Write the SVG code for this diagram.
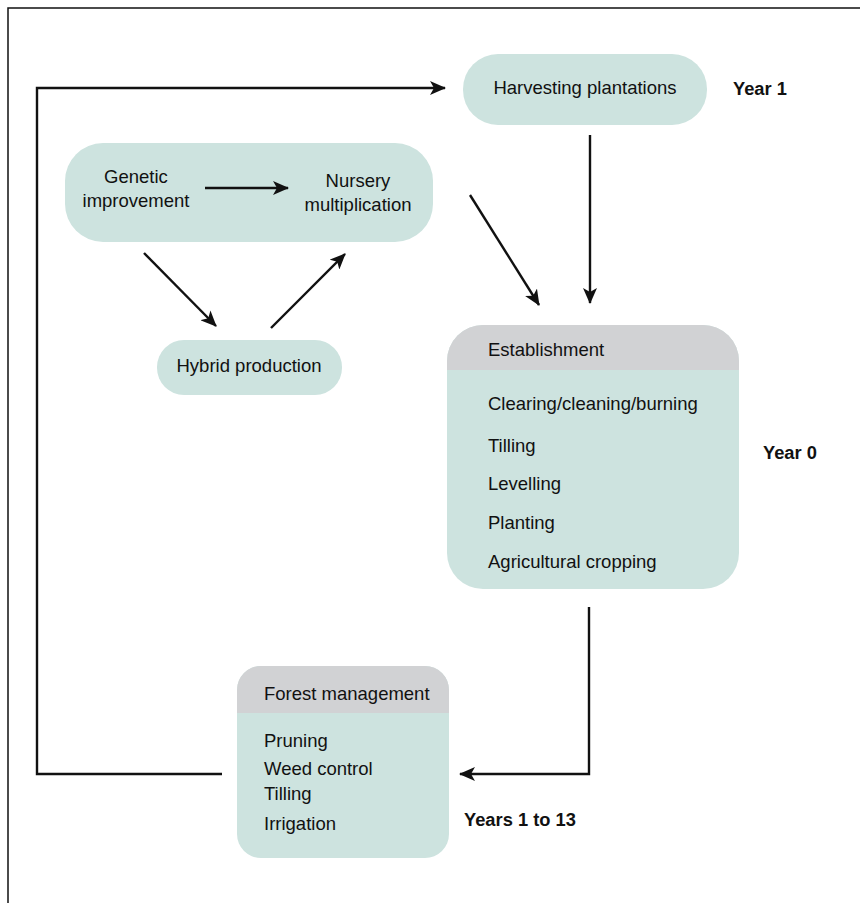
<svg xmlns="http://www.w3.org/2000/svg" width="860" height="903" viewBox="0 0 860 903">
<defs>
<style>
.box{fill:#cde3df;}
.hdr{fill:#d1d2d4;}
.t{font-family:"Liberation Sans",Arial,sans-serif;font-size:18.5px;fill:#111;}
.b{font-family:"Liberation Sans",Arial,sans-serif;font-size:18.3px;font-weight:bold;fill:#111;}
.c{text-anchor:middle;}
.ln{fill:none;stroke:#111;stroke-width:2.4;}
</style>
<marker id="ah" viewBox="0 0 16 14" refX="15" refY="7" markerWidth="16" markerHeight="14" markerUnits="userSpaceOnUse" orient="auto">
<path d="M0,0 L16,7 L0,14 L4,7 Z" fill="#111"/>
</marker>
<clipPath id="clipE"><rect x="447" y="325" width="292" height="264" rx="36"/></clipPath>
<clipPath id="clipF"><rect x="237" y="666" width="212" height="192" rx="24"/></clipPath>
</defs>
<rect width="860" height="903" fill="#fff"/>
<g id="frame">
<path d="M8,903 V8 H860" fill="none" stroke="#111" stroke-width="1.5"/>
</g>
<g id="harvesting">
<rect class="box" x="463" y="54" width="244" height="71" rx="35"/>
<text class="t c" x="585" y="94">Harvesting plantations</text>
</g>
<g id="year1"><text class="b" x="733" y="95">Year 1</text></g>
<g id="genetic-nursery">
<rect class="box" x="65" y="143" width="368" height="99" rx="38"/>
<text class="t c" x="136" y="183">Genetic</text>
<text class="t c" x="136" y="207">improvement</text>
<text class="t c" x="358" y="187">Nursery</text>
<text class="t c" x="358" y="211">multiplication</text>
</g>
<g id="hybrid">
<rect class="box" x="157" y="340" width="185" height="55" rx="27"/>
<text class="t c" x="249" y="372">Hybrid production</text>
</g>
<g id="establishment">
<g clip-path="url(#clipE)">
<rect class="box" x="447" y="325" width="292" height="264"/>
<rect class="hdr" x="447" y="325" width="292" height="45"/>
</g>
<text class="t" x="488" y="356">Establishment</text>
<text class="t" x="488" y="410">Clearing/cleaning/burning</text>
<text class="t" x="488" y="452">Tilling</text>
<text class="t" x="488" y="490">Levelling</text>
<text class="t" x="488" y="529">Planting</text>
<text class="t" x="488" y="568">Agricultural cropping</text>
</g>
<g id="year0"><text class="b" x="763" y="459">Year 0</text></g>
<g id="forest">
<g clip-path="url(#clipF)">
<rect class="box" x="237" y="666" width="212" height="192"/>
<rect class="hdr" x="237" y="666" width="212" height="47"/>
</g>
<text class="t" x="264" y="700">Forest management</text>
<text class="t" x="264" y="747">Pruning</text>
<text class="t" x="264" y="775">Weed control</text>
<text class="t" x="264" y="800">Tilling</text>
<text class="t" x="264" y="830">Irrigation</text>
</g>
<g id="years113"><text class="b" x="464" y="826">Years 1 to 13</text></g>
<g id="connectors">
<path class="ln" d="M222,774 H37 V88 H445" marker-end="url(#ah)"/>
<path class="ln" d="M590,135 V303" marker-end="url(#ah)"/>
<path class="ln" d="M470,195 L539,305" marker-end="url(#ah)"/>
<path class="ln" d="M205,188 H288" marker-end="url(#ah)"/>
<path class="ln" d="M144,253 L216,326" marker-end="url(#ah)"/>
<path class="ln" d="M271,328 L345,254" marker-end="url(#ah)"/>
<path class="ln" d="M589,607 V774 H460" marker-end="url(#ah)"/>
</g>
</svg>
